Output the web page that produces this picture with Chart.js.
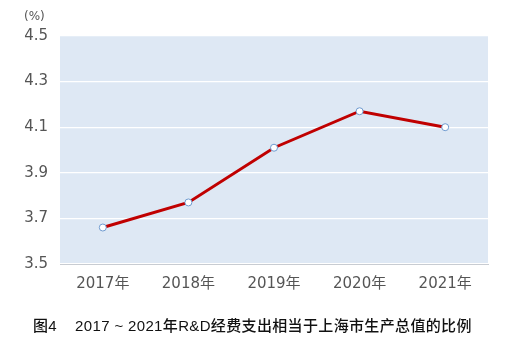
<!DOCTYPE html>
<html><head><meta charset="utf-8">
<script src="https://cdn.jsdelivr.net/npm/chart.js@4/dist/chart.umd.min.js"></script>
<style>
html,body{margin:0;padding:0;background:#fff;}
#wrap{position:relative;width:512px;height:354px;}
#unit{position:absolute;left:24px;top:9px;font:12px "DejaVu Sans",sans-serif;color:#555;}
#cap{position:absolute;left:33px;top:314px;font:500 15px "Liberation Sans","Noto Sans CJK SC",sans-serif;color:#111;letter-spacing:0.35px;white-space:nowrap;}
canvas{position:absolute;left:0;top:0;}
</style></head>
<body><div id="wrap"><canvas id="c" width="512" height="354"></canvas>
<div id="unit">(%)</div>
<div id="cap">图4&nbsp;&nbsp;&nbsp;&nbsp;2017 ~ 2021年R&amp;D经费支出相当于上海市生产总值的比例</div></div>
<script>
const categories = ["2017年","2018年","2019年","2020年","2021年"];
const values = [3.66, 3.77, 4.01, 4.17, 4.10];
const yTicks = [3.5, 3.7, 3.9, 4.1, 4.3, 4.5];

const bgPlugin = {
  id:'bg',
  beforeDraw(chart){
    const {ctx, chartArea:a} = chart;
    ctx.save(); ctx.fillStyle = '#dee8f4';
    ctx.fillRect(a.left, a.top, a.right-a.left, a.bottom-a.top);
    ctx.restore();
  }
};

new Chart(document.getElementById('c'), {
  type:'line',
  data:{labels:categories, datasets:[{
    data:values, borderColor:'#c00000', borderWidth:3,
    pointRadius:3.5, pointBackgroundColor:'#fff', pointBorderColor:'#6f9bd0', pointBorderWidth:1,
    tension:0
  }]},
  options:{
    responsive:false, animation:false,
    layout:{padding:{left:0,right:24,top:36,bottom:0}},
    plugins:{legend:{display:false}, tooltip:{enabled:false}},
    scales:{
      x:{
        offset:true,
        grid:{display:false, drawTicks:false},
        border:{display:true, color:'#c8ccd2', width:1},
        ticks:{padding:11, color:'#555', font:{family:'"DejaVu Sans","Noto Sans CJK SC"', size:15}},
        afterFit(s){ s.height = 90; }
      },
      y:{
        min:3.5, max:4.5,
        afterBuildTicks(s){ s.ticks = yTicks.map(v=>({value:v})); },
        grid:{color:'#ffffff', lineWidth:1.2, drawTicks:false},
        border:{display:false},
        ticks:{padding:12, color:'#555', font:{family:'"DejaVu Sans"', size:15},
          callback:v=>v.toFixed(1)},
        afterFit(s){ s.width = 60; }
      }
    }
  },
  plugins:[bgPlugin]
});
</script></body></html>
